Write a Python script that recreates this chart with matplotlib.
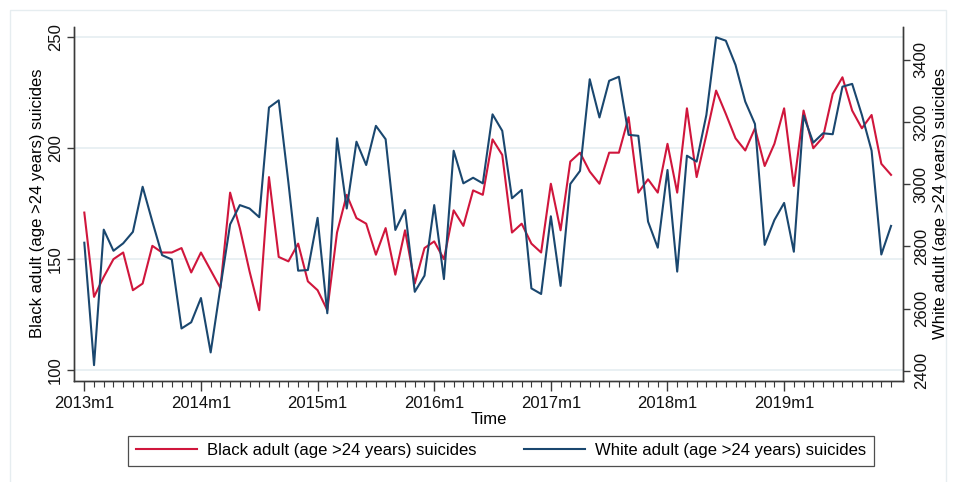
import matplotlib
matplotlib.use("Agg")
import matplotlib.pyplot as plt
from matplotlib.lines import Line2D
from matplotlib.patches import Rectangle
import numpy as np

# monthly counts, 2013m1 .. 2019m12
black = [171, 133, 142, 150, 153, 136, 139, 156, 153, 153, 155, 144,
         153, 145, 137, 180, 164, 144.5, 127, 187, 151, 149, 157, 140,
         136, 127, 162, 179, 168.5, 166, 152, 164, 143, 163, 139, 155,
         158, 150, 172, 165, 181, 179, 204, 197, 162, 166, 157, 153,
         184, 163, 194, 198, 189.5, 184, 198, 198, 214, 180, 186, 180,
         202, 180, 218, 187, 206, 226, 215.5, 204.5, 199, 209, 192, 202,
         218, 183, 217, 200, 205, 224.5, 232, 217, 209, 215, 193, 188]
white = [2812, 2418, 2854, 2786, 2810, 2847, 2992, 2880, 2772, 2758, 2536, 2556,
         2634, 2459, 2668, 2871, 2933, 2922, 2894, 3247, 3270, 3005, 2722, 2724,
         2892, 2585, 3148, 2922, 3137, 3062, 3188, 3145, 2853, 2917, 2654, 2706,
         2933, 2695, 3108, 3003, 3021, 3003, 3225, 3172, 2955, 2982, 2665, 2647,
         2897, 2673, 3001, 3043, 3338, 3215, 3333, 3346, 3159, 3156, 2880, 2796,
         3046, 2719, 3092, 3073, 3223, 3473, 3462, 3384, 3266, 3194, 2805, 2885,
         2940, 2783, 3221, 3134, 3164, 3161, 3314, 3323, 3223, 3108, 2774, 2866]
year_labels = ["2013m1", "2014m1", "2015m1", "2016m1", "2017m1", "2018m1", "2019m1"]
left_ticks = [100, 150, 200, 250]
right_ticks = [2400, 2600, 2800, 3000, 3200, 3400]

RED, NAVY, AXIS, GRID = "#d0163c", "#1a476f", "#3a3a3a", "#e3ecf0"
W, H = 956, 482

plt.rcParams["font.family"] = ["Liberation Sans", "DejaVu Sans"]
plt.rcParams["font.size"] = 12

fig = plt.figure(figsize=(W / 100, H / 100), dpi=100)
fig.patch.set_facecolor("white")
# faint outer frame of the graph region
fig.add_artist(Rectangle((10 / W, -0.1), 936 / W, 1.1 - 10 / H, transform=fig.transFigure,
                         fill=False, edgecolor="#e6edf0", lw=1.0))

ax = fig.add_axes([74.3 / W, 1 - 380.7 / H, (902.7 - 74.3) / W, (380.7 - 26.7) / H])
ax2 = ax.twinx()

months = np.arange(len(black))
ax.plot(months, black, color=RED, lw=1.5, zorder=3)
ax2.plot(months, white, color=NAVY, lw=1.5, zorder=3)

ax.set_xlim(-1.03, 84.2)
ax.set_ylim(95.2, 254.8)
ax2.set_ylim(2368, 3507)

ax.set_yticks(left_ticks)
ax.set_yticklabels([str(t) for t in left_ticks], rotation=90, va="center")
ax2.set_yticks(right_ticks)
ax2.set_yticklabels([str(t) for t in right_ticks], rotation=90, va="center")
ax.set_xticks(np.arange(0, 84, 12))
ax.set_xticklabels(year_labels)
ax.set_xticks(months, minor=True)

ax.grid(axis="y", color=GRID, lw=1.1)
ax.set_axisbelow(True)

for a in (ax, ax2):
    a.spines["top"].set_visible(False)
    for s in ("left", "right", "bottom"):
        a.spines[s].set_color(AXIS)
        a.spines[s].set_linewidth(1.0)
    a.tick_params(colors=AXIS, labelcolor="#111111", width=1.0)
ax.tick_params(axis="x", which="major", length=7, pad=4)
ax.tick_params(axis="x", which="minor", length=4, width=0.8, colors=AXIS)
ax.tick_params(axis="y", length=5, pad=3)
ax2.tick_params(axis="y", length=5, pad=3)

ax.set_xlabel("Time", labelpad=1)
ax.set_ylabel("Black adult (age >24 years) suicides", labelpad=2)
ax2.set_ylabel("White adult (age >24 years) suicides", rotation=90, labelpad=3)

handles = [Line2D([], [], color=RED, lw=1.5),
           Line2D([], [], color=NAVY, lw=1.5)]
leg = fig.legend(handles,
                 ["Black adult (age >24 years) suicides",
                  "White adult (age >24 years) suicides"],
                 loc="center", bbox_to_anchor=(501 / W, 1 - 450.5 / H), ncol=2,
                 frameon=True, fancybox=False, edgecolor="#222222",
                 handlelength=3.7, columnspacing=2.8, handletextpad=0.6,
                 borderpad=0.45, fontsize=12)
leg.get_frame().set_linewidth(0.9)

fig.savefig("out.png", dpi=100, facecolor="white")
